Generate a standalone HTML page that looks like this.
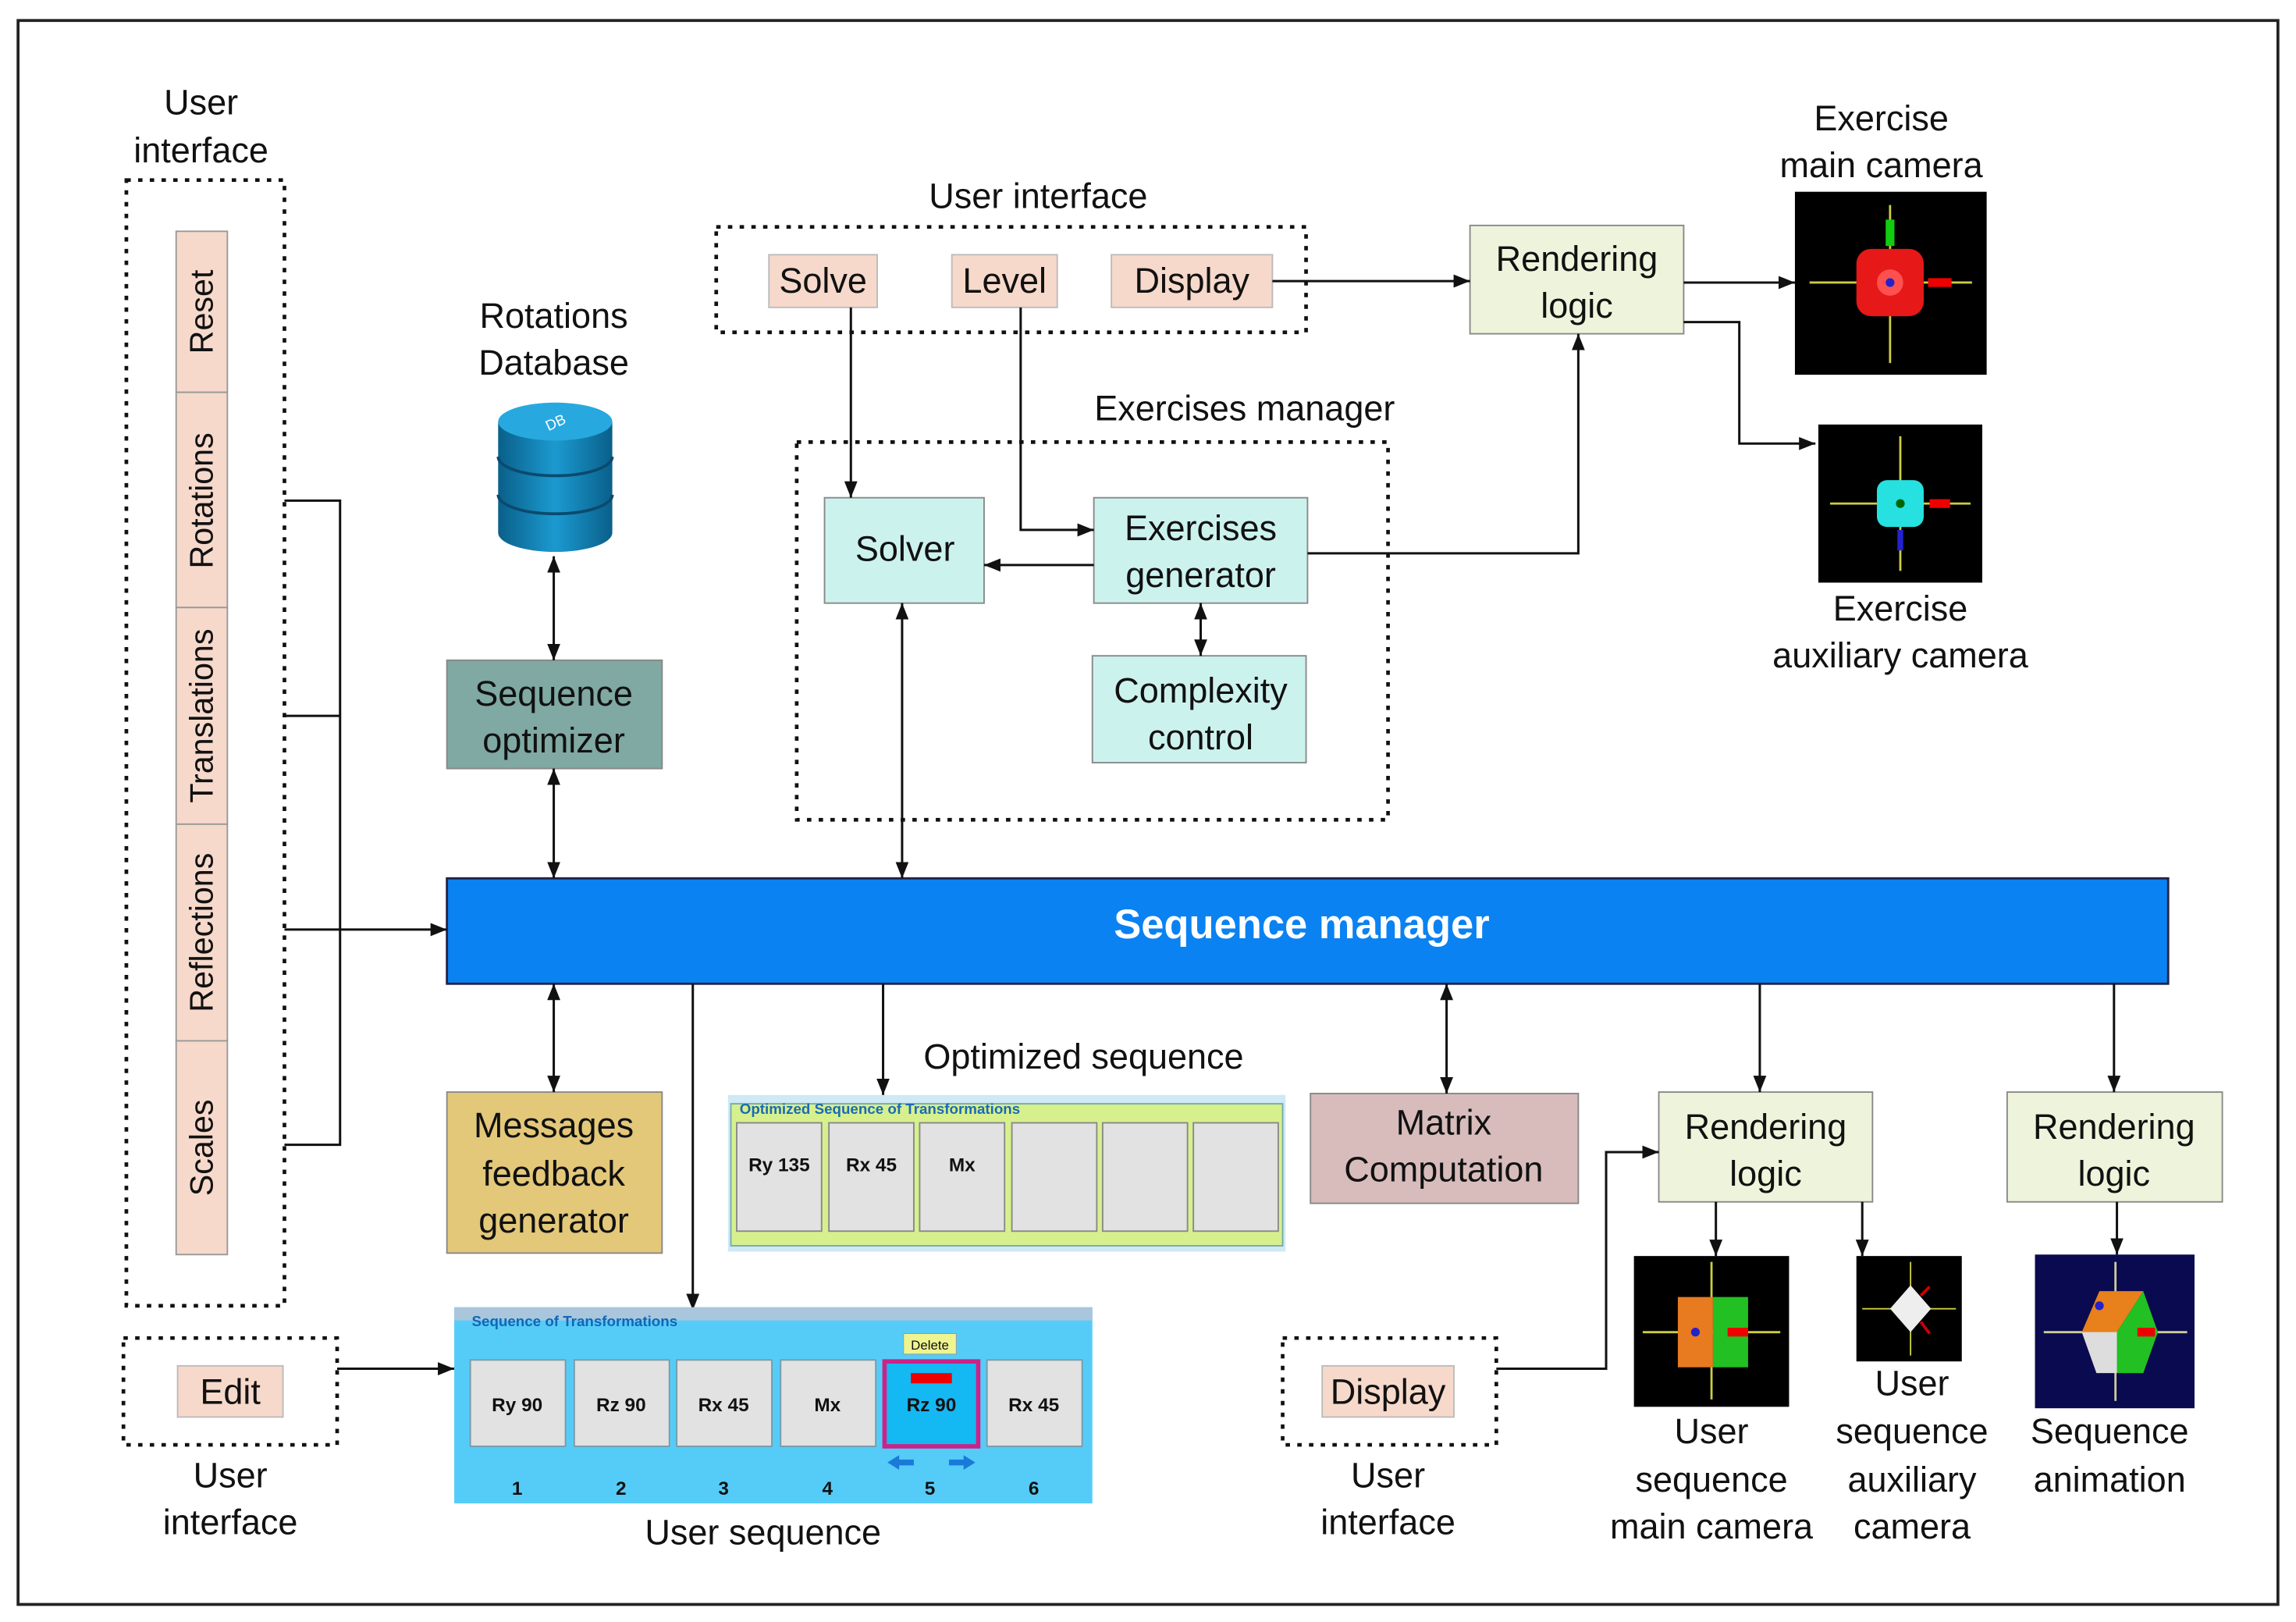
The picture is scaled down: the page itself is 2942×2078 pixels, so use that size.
<!DOCTYPE html>
<html><head><meta charset="utf-8"><style>
html,body{margin:0;padding:0;background:#fff}
svg{display:block}
text{font-family:"Liberation Sans",sans-serif;fill:#111}
</style></head><body>
<svg width="2942" height="2078" viewBox="0 0 1568 1108" xmlns="http://www.w3.org/2000/svg">
<defs>
<marker id="a" viewBox="0 0 10 10" refX="10" refY="5" markerWidth="7" markerHeight="7" orient="auto-start-reverse"><path d="M0,1 L10,5 L0,9 z" fill="#111"/></marker>
<linearGradient id="db" x1="0" x2="1"><stop offset="0" stop-color="#0a5f8a"/><stop offset=".5" stop-color="#1b9ad0"/><stop offset="1" stop-color="#0a5f8a"/></linearGradient>
</defs>
<rect x="12" y="14" width="1544" height="1082" fill="#fff" stroke="#222" stroke-width="2"/>

<g font-size="24" text-anchor="middle">
<text x="137" y="78">User</text><text x="137" y="111">interface</text>
<text x="378" y="224">Rotations</text><text x="378" y="256">Database</text>
<text x="709" y="142">User interface</text>
<text x="850" y="287">Exercises manager</text>
<text x="1285" y="89">Exercise</text><text x="1285" y="121">main camera</text>
<text x="1298" y="424">Exercise</text><text x="1298" y="456">auxiliary camera</text>
<text x="740" y="730">Optimized sequence</text>
<text x="521" y="1055">User sequence</text>
<text x="157" y="1016">User</text><text x="157" y="1048">interface</text>
<text x="948" y="1016">User</text><text x="948" y="1048">interface</text>
<text x="1169" y="986">User</text><text x="1169" y="1019">sequence</text><text x="1169" y="1051">main camera</text>
<text x="1306" y="953">User</text><text x="1306" y="986">sequence</text><text x="1306" y="1019">auxiliary</text><text x="1306" y="1051">camera</text>
<text x="1441" y="986">Sequence</text><text x="1441" y="1019">animation</text>
</g>

<!-- dotted boxes -->
<g fill="none" stroke="#111" stroke-width="2.5" stroke-dasharray="3,5">
<rect x="86" y="123" width="108" height="769"/>
<rect x="489" y="155" width="403" height="72"/>
<rect x="544" y="302" width="404" height="258"/>
<rect x="84" y="914" width="146" height="73"/>
<rect x="876" y="914" width="146" height="73"/>
</g>

<!-- vertical tabs -->
<g stroke="#999" stroke-width="1" fill="#f6d9cb">
<rect x="120" y="158" width="35" height="110"/>
<rect x="120" y="268" width="35" height="147"/>
<rect x="120" y="415" width="35" height="148"/>
<rect x="120" y="563" width="35" height="148"/>
<rect x="120" y="711" width="35" height="146"/>
</g>
<g font-size="22" text-anchor="middle">
<text transform="translate(145,213) rotate(-90)">Reset</text>
<text transform="translate(145,342) rotate(-90)">Rotations</text>
<text transform="translate(145,489) rotate(-90)">Translations</text>
<text transform="translate(145,637) rotate(-90)">Reflections</text>
<text transform="translate(145,784) rotate(-90)">Scales</text>
</g>

<!-- buttons -->
<g stroke="#bbb" stroke-width="1" fill="#f6d9cb">
<rect x="525" y="174" width="74" height="36"/>
<rect x="650" y="174" width="72" height="36"/>
<rect x="759" y="174" width="110" height="36"/>
<rect x="121" y="933" width="72" height="35"/>
<rect x="903" y="933" width="90" height="35"/>
</g>
<g font-size="24" text-anchor="middle">
<text x="562" y="200">Solve</text><text x="686" y="200">Level</text><text x="814" y="200">Display</text>
<text x="157" y="959">Edit</text><text x="948" y="959">Display</text>
</g>

<!-- boxes -->
<g stroke="#888" stroke-width="1">
<rect x="305" y="451" width="147" height="74" fill="#7fa9a2"/>
<rect x="305" y="746" width="147" height="110" fill="#e3c87a"/>
<rect x="895" y="747" width="183" height="75" fill="#d8bcbc"/>
<rect x="1004" y="154" width="146" height="74" fill="#eef4dc"/>
<rect x="1133" y="746" width="146" height="75" fill="#eef4dc"/>
<rect x="1371" y="746" width="147" height="75" fill="#eef4dc"/>
<rect x="563" y="340" width="109" height="72" fill="#ccf2ee"/>
<rect x="747" y="340" width="146" height="72" fill="#ccf2ee"/>
<rect x="746" y="448" width="146" height="73" fill="#ccf2ee"/>
</g>
<rect x="305" y="600" width="1176" height="72" fill="#0a82f2" stroke="#224" stroke-width="1.5"/>
<text x="889" y="641" font-size="28" font-weight="bold" text-anchor="middle" style="fill:#fff">Sequence manager</text>
<g font-size="24" text-anchor="middle">
<text x="378" y="482">Sequence</text><text x="378" y="514">optimizer</text>
<text x="378" y="777">Messages</text><text x="378" y="810">feedback</text><text x="378" y="842">generator</text>
<text x="986" y="775">Matrix</text><text x="986" y="807">Computation</text>
<text x="1077" y="185">Rendering</text><text x="1077" y="217">logic</text>
<text x="1206" y="778">Rendering</text><text x="1206" y="810">logic</text>
<text x="1444" y="778">Rendering</text><text x="1444" y="810">logic</text>
<text x="618" y="383">Solver</text>
<text x="820" y="369">Exercises</text><text x="820" y="401">generator</text>
<text x="820" y="480">Complexity</text><text x="820" y="512">control</text>
</g>

<!-- DB -->
<g>
<path d="M340,288 v76 a39,13 0 0 0 78,0 v-76 z" fill="url(#db)"/>
<ellipse cx="379" cy="288" rx="39" ry="13" fill="#27a9e0"/>
<path d="M340,312 a39,13 0 0 0 78,0 M340,338 a39,13 0 0 0 78,0" fill="none" stroke="#0b4a6e" stroke-width="2"/>
<text x="379" y="292" font-size="10" text-anchor="middle" style="fill:#fff" transform="rotate(-25 379 288)">DB</text>
</g>

<!-- connectors -->
<g stroke="#111" stroke-width="1.6" fill="none">
<path d="M194,342 H232 V782 H194 M194,489 H232"/>
<path d="M194,635 H305" marker-end="url(#a)"/>
<path d="M378,380 V451" marker-start="url(#a)" marker-end="url(#a)"/>
<path d="M378,525 V600" marker-start="url(#a)" marker-end="url(#a)"/>
<path d="M378,672 V746" marker-start="url(#a)" marker-end="url(#a)"/>
<path d="M473,672 V895" marker-end="url(#a)"/>
<path d="M603,672 V748" marker-end="url(#a)"/>
<path d="M988,672 V747" marker-start="url(#a)" marker-end="url(#a)"/>
<path d="M1202,672 V746" marker-end="url(#a)"/>
<path d="M1444,672 V746" marker-end="url(#a)"/>
<path d="M1172,821 V858" marker-end="url(#a)"/>
<path d="M1272,821 V858" marker-end="url(#a)"/>
<path d="M1446,821 V857" marker-end="url(#a)"/>
<path d="M1022,935 H1097 V787 H1133" marker-end="url(#a)"/>
<path d="M230,935 H310" marker-end="url(#a)"/>
<path d="M869,192 H1004" marker-end="url(#a)"/>
<path d="M1150,193 H1226" marker-end="url(#a)"/>
<path d="M1150,220 H1188 V303 H1240" marker-end="url(#a)"/>
<path d="M581,210 V340" marker-end="url(#a)"/>
<path d="M697,210 V362 H747" marker-end="url(#a)"/>
<path d="M747,386 H672" marker-end="url(#a)"/>
<path d="M820,412 V448" marker-start="url(#a)" marker-end="url(#a)"/>
<path d="M893,378 H1078 V228" marker-end="url(#a)"/>
<path d="M616,412 V600" marker-start="url(#a)" marker-end="url(#a)"/>
</g>

<!-- optimized sequence panel -->
<rect x="497" y="748" width="381" height="107" fill="#cfe9f5"/>
<rect x="499" y="754" width="377" height="97" fill="#d7f08e" stroke="#7aa" stroke-width="1"/>
<text x="505" y="761" font-size="10" style="fill:#1a6bb5" font-weight="bold">Optimized Sequence of Transformations</text>
<g fill="#e2e2e2" stroke="#888">
<rect x="503" y="767" width="58" height="74"/><rect x="566" y="767" width="58" height="74"/><rect x="628" y="767" width="58" height="74"/>
<rect x="691" y="767" width="58" height="74"/><rect x="753" y="767" width="58" height="74"/><rect x="815" y="767" width="58" height="74"/>
</g>
<g font-size="13" font-weight="bold" text-anchor="middle">
<text x="532" y="800">Ry 135</text><text x="595" y="800">Rx 45</text><text x="657" y="800">Mx</text>
</g>

<!-- user sequence panel -->
<rect x="310" y="893" width="436" height="134" fill="#55ccf7"/>
<rect x="310" y="893" width="436" height="9" fill="#a9c6dd"/>
<text x="322" y="906" font-size="10" font-weight="bold" style="fill:#1565b5">Sequence of Transformations</text>
<g fill="#e2e2e2" stroke="#7a9aa8">
<rect x="321" y="929" width="65" height="59"/><rect x="392" y="929" width="65" height="59"/><rect x="462" y="929" width="65" height="59"/><rect x="533" y="929" width="65" height="59"/><rect x="674" y="929" width="65" height="59"/>
</g>
<rect x="604" y="930" width="64" height="58" fill="#14b8f3" stroke="#cc2288" stroke-width="3"/>
<rect x="622" y="938" width="28" height="7" fill="#e00"/>
<rect x="617" y="911" width="36" height="14" fill="#eef590" stroke="#999" stroke-width=".5"/>
<text x="635" y="922" font-size="9" text-anchor="middle">Delete</text>
<g font-size="13" font-weight="bold" text-anchor="middle">
<text x="353" y="964">Ry 90</text><text x="424" y="964">Rz 90</text><text x="494" y="964">Rx 45</text><text x="565" y="964">Mx</text><text x="636" y="964">Rz 90</text><text x="706" y="964">Rx 45</text>
</g>
<g font-size="13" font-weight="bold" text-anchor="middle" style="fill:#333">
<text x="353" y="1021">1</text><text x="424" y="1021">2</text><text x="494" y="1021">3</text><text x="565" y="1021">4</text><text x="635" y="1021">5</text><text x="706" y="1021">6</text>
</g>
<path d="M606,999 l8,-5 v3 h10 v4 h-10 v3 z M666,999 l-8,-5 v3 h-10 v4 h10 v3 z" fill="#1a7ad8"/>

<!-- camera images -->
<rect x="1226" y="131" width="131" height="125" fill="#000"/>
<g stroke="#cc4" stroke-width="1.5"><path d="M1236,193 H1347 M1291,140 V248"/></g>
<rect x="1268" y="170" width="46" height="46" rx="10" fill="#e61818"/>
<circle cx="1291" cy="193" r="9" fill="#ff5050"/><circle cx="1291" cy="193" r="3" fill="#22c"/>
<path d="M1317,190 h16 v6 h-16z" fill="#e00"/><path d="M1288,150 h6 v18 h-6z" fill="#1c1"/>

<rect x="1242" y="290" width="112" height="108" fill="#000"/>
<g stroke="#cc4" stroke-width="1.5"><path d="M1250,344 H1346 M1298,298 V390"/></g>
<rect x="1282" y="328" width="32" height="32" rx="7" fill="#27e0e0"/>
<circle cx="1298" cy="344" r="3" fill="#060"/>
<path d="M1318,341 h14 v6 h-14z" fill="#e00"/><path d="M1296,362 h4 v14 h-4z" fill="#22c"/>

<rect x="1116" y="858" width="106" height="103" fill="#000"/>
<g stroke="#cc4" stroke-width="1.5"><path d="M1122,910 H1216 M1169,862 V956"/></g>
<rect x="1146" y="886" width="24" height="48" fill="#e87a20"/>
<rect x="1170" y="886" width="24" height="48" fill="#22c022"/>
<circle cx="1158" cy="910" r="3" fill="#22c"/><path d="M1180,907 h14 v6 h-14z" fill="#e00"/>

<rect x="1268" y="858" width="72" height="72" fill="#000"/>
<g stroke="#cc4" stroke-width="1"><path d="M1272,894 H1336 M1305,862 V926"/></g>
<path d="M1305,878 l14,16 l-14,16 l-14,-16z" fill="#eee"/>
<path d="M1312,885 l6,-6 M1312,903 l6,8" stroke="#c00" stroke-width="2"/>

<rect x="1390" y="857" width="109" height="105" fill="#0a0a50"/>
<g stroke="#cc9" stroke-width="1.5"><path d="M1396,910 H1494 M1445,862 V957"/></g>
<path d="M1422,910 l12,-28 h30 l-18,28z" fill="#e8801c"/>
<path d="M1446,910 l18,-28 l10,28 l-10,28 h-18z" fill="#22c022"/>
<path d="M1422,910 h24 v28 h-14z" fill="#ddd"/>
<circle cx="1434" cy="892" r="3" fill="#22c"/><path d="M1460,907 h12 v6 h-12z" fill="#e00"/>
</svg>
</body></html>
